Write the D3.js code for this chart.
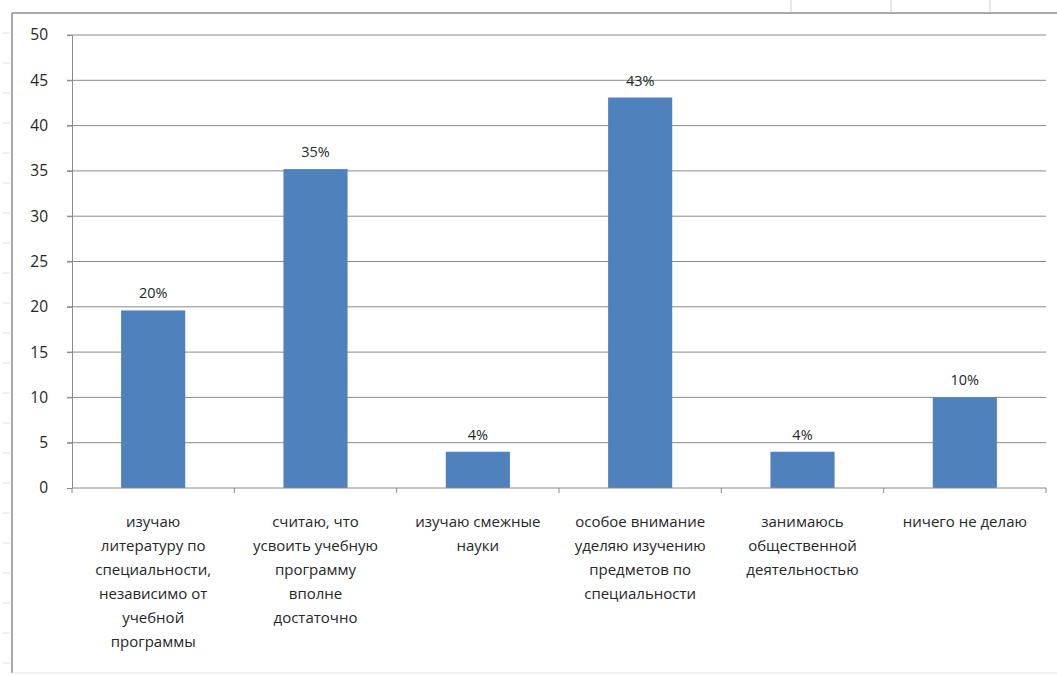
<!DOCTYPE html>
<html>
<head>
<meta charset="utf-8">
<script src="https://cdn.jsdelivr.net/npm/d3@7"></script>
<style>
  body { margin: 0; background: #fff; }
  text { font-family: "Open Sans", "DejaVu Sans", sans-serif; }
</style>
</head>
<body>
<svg id="chart" width="1057" height="676"></svg>
<script>
var categories = [
  "изучаю\nлитературу по\nспециальности,\nнезависимо от\nучебной\nпрограммы",
  "считаю, что\nусвоить учебную\nпрограмму\nвполне\nдостаточно",
  "изучаю смежные\nнауки",
  "особое внимание\nуделяю изучению\nпредметов по\nспециальности",
  "занимаюсь\nобщественной\nдеятельностью",
  "ничего не делаю"
];
var values = [19.6, 35.2, 4, 43.1, 4, 10];
var yTicks = [0, 5, 10, 15, 20, 25, 30, 35, 40, 45, 50];

var svg = d3.select("#chart");
var plotL = 72, plotR = 1046, plotT = 35, plotB = 488;

// frame of the chart object
svg.append("line").attr("x1", 12).attr("x2", 12).attr("y1", 13).attr("y2", 673)
  .attr("stroke", "#8c8c8c").attr("stroke-width", 1.5);
svg.append("line").attr("x1", 12).attr("x2", 1057).attr("y1", 13).attr("y2", 13)
  .attr("stroke", "#8c8c8c").attr("stroke-width", 1.5);
svg.append("line").attr("x1", 12).attr("x2", 1057).attr("y1", 673).attr("y2", 673)
  .attr("stroke", "#e4e4e4").attr("stroke-width", 1);
// spreadsheet cell edges peeking around the frame
[791, 891, 990].forEach(function(x){
  svg.append("line").attr("x1", x).attr("x2", x).attr("y1", 0).attr("y2", 12)
    .attr("stroke", "#cfcfcf");
});
d3.range(33, 670, 30).forEach(function(y){
  svg.append("line").attr("x1", 3).attr("x2", 10).attr("y1", y).attr("y2", y)
    .attr("stroke", "#e0e0e0");
});

var x = d3.scaleBand().domain(d3.range(categories.length)).range([plotL, plotR]);
var y = d3.scaleLinear().domain([0, 50]).range([plotB, plotT]);

// gridlines
svg.append("g")
  .selectAll("line").data(yTicks.filter(function(d){ return d > 0; })).enter()
  .append("line")
  .attr("x1", plotL - 5).attr("x2", plotR)
  .attr("y1", function(d){ return y(d); }).attr("y2", function(d){ return y(d); })
  .attr("stroke", "#8a8a8a").attr("stroke-width", 1);

// y axis
var yAxis = svg.append("g").attr("transform", "translate(" + plotL + ",0)")
  .call(d3.axisLeft(y).tickValues(yTicks).tickSize(5).tickPadding(19));
yAxis.select(".domain").attr("stroke", "#8a8a8a");
yAxis.selectAll(".tick line").attr("stroke", "#8a8a8a");
yAxis.selectAll(".tick text").attr("font-size", 15.5).attr("fill", "#262626")
  .attr("font-family", "'Open Sans', sans-serif");

// bars
var bw = x.bandwidth() * 0.395;
svg.append("g").selectAll("rect").data(values).enter()
  .append("rect")
  .attr("x", function(d, i){ return x(i) + x.bandwidth() / 2 - bw / 2; })
  .attr("width", bw)
  .attr("y", function(d){ return y(d); })
  .attr("height", function(d){ return plotB - y(d); })
  .attr("fill", "#4f81bd");

// data labels
svg.append("g").selectAll("text").data(values).enter()
  .append("text")
  .attr("x", function(d, i){ return x(i) + x.bandwidth() / 2; })
  .attr("y", function(d){ return y(d) - 12; })
  .attr("text-anchor", "middle")
  .attr("font-size", 14.5).attr("fill", "#262626")
  .text(function(d){ return Math.round(d) + "%"; });

// x axis
svg.append("line").attr("x1", plotL).attr("x2", plotR).attr("y1", plotB).attr("y2", plotB)
  .attr("stroke", "#8a8a8a");
svg.append("g").selectAll("line").data(d3.range(categories.length + 1)).enter()
  .append("line")
  .attr("x1", function(i){ return plotL + i * x.step(); })
  .attr("x2", function(i){ return plotL + i * x.step(); })
  .attr("y1", plotB).attr("y2", plotB + 5)
  .attr("stroke", "#8a8a8a");

// category labels
var lab = svg.append("g").selectAll("text").data(categories).enter()
  .append("text")
  .attr("text-anchor", "middle")
  .attr("font-size", 15).attr("fill", "#262626");
lab.selectAll("tspan").data(function(d, i){
    return d.split("\n").map(function(s){ return { s: s, i: i }; });
  }).enter()
  .append("tspan")
  .attr("x", function(d){ return x(d.i) + x.bandwidth() / 2; })
  .attr("y", function(d, j){ return 527 + j * 24; })
  .text(function(d){ return d.s; });
</script>
</body>
</html>
